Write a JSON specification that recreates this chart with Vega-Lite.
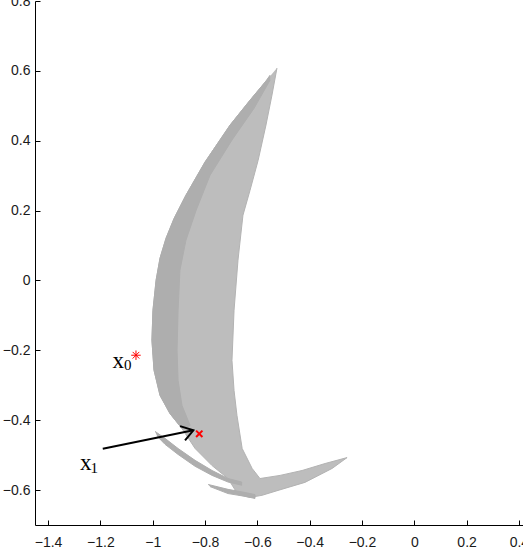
{
  "$schema": "https://vega.github.io/schema/vega-lite/v6.json",
  "width": 497,
  "height": 524,
  "autosize": {"type": "none"},
  "padding": {"left": 35, "top": 1, "right": 0, "bottom": 33},
  "background": "white",
  "config": {
    "view": {"stroke": null},
    "axis": {
      "grid": false,
      "domainColor": "black",
      "tickColor": "black",
      "labelColor": "#1a1a1a",
      "labelFont": "Liberation Sans",
      "labelFontSize": 14,
      "title": null
    }
  },
  "datasets": {
    "shapes": [
      {"shape": "main", "i": 0, "x": -0.525, "y": 0.608},
      {"shape": "main", "i": 1, "x": -0.544, "y": 0.531},
      {"shape": "main", "i": 2, "x": -0.567, "y": 0.445},
      {"shape": "main", "i": 3, "x": -0.597, "y": 0.344},
      {"shape": "main", "i": 4, "x": -0.628, "y": 0.258},
      {"shape": "main", "i": 5, "x": -0.655, "y": 0.187},
      {"shape": "main", "i": 6, "x": -0.674, "y": 0.058},
      {"shape": "main", "i": 7, "x": -0.689, "y": -0.085},
      {"shape": "main", "i": 8, "x": -0.697, "y": -0.229},
      {"shape": "main", "i": 9, "x": -0.689, "y": -0.315},
      {"shape": "main", "i": 10, "x": -0.678, "y": -0.386},
      {"shape": "main", "i": 11, "x": -0.658, "y": -0.481},
      {"shape": "main", "i": 12, "x": -0.620, "y": -0.538},
      {"shape": "main", "i": 13, "x": -0.590, "y": -0.567},
      {"shape": "main", "i": 14, "x": -0.513, "y": -0.558},
      {"shape": "main", "i": 15, "x": -0.429, "y": -0.544},
      {"shape": "main", "i": 16, "x": -0.341, "y": -0.524},
      {"shape": "main", "i": 17, "x": -0.257, "y": -0.507},
      {"shape": "main", "i": 18, "x": -0.314, "y": -0.538},
      {"shape": "main", "i": 19, "x": -0.418, "y": -0.578},
      {"shape": "main", "i": 20, "x": -0.521, "y": -0.601},
      {"shape": "main", "i": 21, "x": -0.582, "y": -0.615},
      {"shape": "main", "i": 22, "x": -0.628, "y": -0.621},
      {"shape": "main", "i": 23, "x": -0.674, "y": -0.613},
      {"shape": "main", "i": 24, "x": -0.712, "y": -0.567},
      {"shape": "main", "i": 25, "x": -0.773, "y": -0.530},
      {"shape": "main", "i": 26, "x": -0.838, "y": -0.481},
      {"shape": "main", "i": 27, "x": -0.888, "y": -0.424},
      {"shape": "main", "i": 28, "x": -0.934, "y": -0.381},
      {"shape": "main", "i": 29, "x": -0.972, "y": -0.329},
      {"shape": "main", "i": 30, "x": -0.995, "y": -0.257},
      {"shape": "main", "i": 31, "x": -1.003, "y": -0.171},
      {"shape": "main", "i": 32, "x": -0.999, "y": -0.085},
      {"shape": "main", "i": 33, "x": -0.987, "y": 0.001},
      {"shape": "main", "i": 34, "x": -0.972, "y": 0.064},
      {"shape": "main", "i": 35, "x": -0.949, "y": 0.121},
      {"shape": "main", "i": 36, "x": -0.918, "y": 0.178},
      {"shape": "main", "i": 37, "x": -0.873, "y": 0.244},
      {"shape": "main", "i": 38, "x": -0.800, "y": 0.339},
      {"shape": "main", "i": 39, "x": -0.704, "y": 0.445},
      {"shape": "main", "i": 40, "x": -0.628, "y": 0.516},
      {"shape": "main", "i": 41, "x": -0.570, "y": 0.568},
      {"shape": "dense", "i": 0, "x": -0.551, "y": 0.588},
      {"shape": "dense", "i": 1, "x": -0.570, "y": 0.568},
      {"shape": "dense", "i": 2, "x": -0.628, "y": 0.516},
      {"shape": "dense", "i": 3, "x": -0.704, "y": 0.445},
      {"shape": "dense", "i": 4, "x": -0.800, "y": 0.339},
      {"shape": "dense", "i": 5, "x": -0.873, "y": 0.244},
      {"shape": "dense", "i": 6, "x": -0.918, "y": 0.178},
      {"shape": "dense", "i": 7, "x": -0.949, "y": 0.121},
      {"shape": "dense", "i": 8, "x": -0.972, "y": 0.064},
      {"shape": "dense", "i": 9, "x": -0.987, "y": 0.001},
      {"shape": "dense", "i": 10, "x": -0.999, "y": -0.085},
      {"shape": "dense", "i": 11, "x": -1.003, "y": -0.171},
      {"shape": "dense", "i": 12, "x": -0.995, "y": -0.257},
      {"shape": "dense", "i": 13, "x": -0.972, "y": -0.329},
      {"shape": "dense", "i": 14, "x": -0.934, "y": -0.381},
      {"shape": "dense", "i": 15, "x": -0.888, "y": -0.424},
      {"shape": "dense", "i": 16, "x": -0.857, "y": -0.415},
      {"shape": "dense", "i": 17, "x": -0.888, "y": -0.358},
      {"shape": "dense", "i": 18, "x": -0.903, "y": -0.286},
      {"shape": "dense", "i": 19, "x": -0.907, "y": -0.200},
      {"shape": "dense", "i": 20, "x": -0.903, "y": -0.085},
      {"shape": "dense", "i": 21, "x": -0.896, "y": 0.029},
      {"shape": "dense", "i": 22, "x": -0.873, "y": 0.115},
      {"shape": "dense", "i": 23, "x": -0.834, "y": 0.201},
      {"shape": "dense", "i": 24, "x": -0.781, "y": 0.301},
      {"shape": "dense", "i": 25, "x": -0.697, "y": 0.402},
      {"shape": "dense", "i": 26, "x": -0.6125, "y": 0.493},
      {"shape": "dense", "i": 27, "x": -0.551, "y": 0.574},
      {"shape": "band1", "i": 0, "x": -0.991, "y": -0.432},
      {"shape": "band1", "i": 1, "x": -0.953, "y": -0.452},
      {"shape": "band1", "i": 2, "x": -0.903, "y": -0.481},
      {"shape": "band1", "i": 3, "x": -0.838, "y": -0.515},
      {"shape": "band1", "i": 4, "x": -0.773, "y": -0.544},
      {"shape": "band1", "i": 5, "x": -0.712, "y": -0.567},
      {"shape": "band1", "i": 6, "x": -0.660, "y": -0.577},
      {"shape": "band1", "i": 7, "x": -0.660, "y": -0.586},
      {"shape": "band1", "i": 8, "x": -0.712, "y": -0.577},
      {"shape": "band1", "i": 9, "x": -0.773, "y": -0.558},
      {"shape": "band1", "i": 10, "x": -0.838, "y": -0.532},
      {"shape": "band1", "i": 11, "x": -0.903, "y": -0.498},
      {"shape": "band1", "i": 12, "x": -0.953, "y": -0.469},
      {"shape": "band1", "i": 13, "x": -0.983, "y": -0.446},
      {"shape": "band2", "i": 0, "x": -0.788, "y": -0.584},
      {"shape": "band2", "i": 1, "x": -0.712, "y": -0.598},
      {"shape": "band2", "i": 2, "x": -0.647, "y": -0.607},
      {"shape": "band2", "i": 3, "x": -0.609, "y": -0.613},
      {"shape": "band2", "i": 4, "x": -0.609, "y": -0.624},
      {"shape": "band2", "i": 5, "x": -0.647, "y": -0.618},
      {"shape": "band2", "i": 6, "x": -0.712, "y": -0.610},
      {"shape": "band2", "i": 7, "x": -0.781, "y": -0.590}
    ],
    "arrow": [
      {"seg": "shaft", "i": 0, "x": -1.191, "y": -0.482},
      {"seg": "shaft", "i": 1, "x": -0.8446, "y": -0.429},
      {"seg": "head", "i": 0, "x": -0.8955, "y": -0.417},
      {"seg": "head", "i": 1, "x": -0.8446, "y": -0.429},
      {"seg": "head", "i": 2, "x": -0.8764, "y": -0.458}
    ],
    "points": [
      {"name": "x0", "x": -1.064, "y": -0.214},
      {"name": "x1", "x": -0.822, "y": -0.439}
    ],
    "labels": [
      {"part": "base", "t": "x", "x": -1.1536, "y": -0.2501},
      {"part": "base", "t": "x", "x": -1.2779, "y": -0.5438},
      {"part": "sub", "t": "0", "x": -1.1097, "y": -0.2573},
      {"part": "sub", "t": "1", "x": -1.2378, "y": -0.5524}
    ]
  },
  "encoding": {
    "x": {"field": "x", "type": "quantitative", "scale": {"domain": [-1.45, 0.45], "nice": false, "zero": false},
      "axis": {"values": [-1.4, -1.2, -1, -0.8, -0.6, -0.4, -0.2, 0, 0.2, 0.4], "format": "~g", "tickSize": -5, "labelPadding": 15}},
    "y": {"field": "y", "type": "quantitative", "scale": {"domain": [-0.7, 0.8], "nice": false, "zero": false},
      "axis": {"values": [-0.6, -0.4, -0.2, 0, 0.2, 0.4, 0.6, 0.8], "format": "~g", "tickSize": -5, "labelPadding": 10}}
  },
  "layer": [
    {
      "data": {"name": "shapes"},
      "transform": [{"filter": "datum.shape === 'main'"}],
      "mark": {"type": "line", "fill": "#bdbdbd", "stroke": "#b3b3b3", "strokeWidth": 1},
      "encoding": {"order": {"field": "i", "type": "quantitative"}}
    },
    {
      "data": {"name": "shapes"},
      "transform": [{"filter": "datum.shape !== 'main'"}],
      "mark": {"type": "line", "fill": "#aeaeae", "stroke": "#aeaeae", "strokeWidth": 1},
      "encoding": {"detail": {"field": "shape"}, "order": {"field": "i", "type": "quantitative"}}
    },
    {
      "data": {"name": "arrow"},
      "mark": {"type": "line", "color": "black", "strokeWidth": 2},
      "encoding": {"detail": {"field": "seg"}, "order": {"field": "i", "type": "quantitative"}}
    },
    {
      "data": {"name": "points"},
      "transform": [{"filter": "datum.name === 'x0'"}],
      "mark": {"type": "point", "shape": "M-1,0L1,0M0,-1L0,1M-0.7,-0.7L0.7,0.7M-0.7,0.7L0.7,-0.7", "size": 90, "stroke": "#ff0000", "strokeWidth": 1, "filled": false, "opacity": 1}
    },
    {
      "data": {"name": "points"},
      "transform": [{"filter": "datum.name === 'x1'"}],
      "mark": {"type": "point", "shape": "M-1,-1L1,1M-1,1L1,-1", "size": 40, "stroke": "#ff0000", "strokeWidth": 2, "filled": false, "opacity": 1}
    },
    {
      "data": {"name": "labels"},
      "transform": [{"filter": "datum.part === 'base'"}],
      "mark": {"type": "text", "font": "Liberation Serif", "fontSize": 23, "align": "left", "baseline": "alphabetic", "color": "black"},
      "encoding": {"text": {"field": "t"}}
    },
    {
      "data": {"name": "labels"},
      "transform": [{"filter": "datum.part === 'sub'"}],
      "mark": {"type": "text", "font": "Liberation Serif", "fontSize": 15, "align": "left", "baseline": "alphabetic", "color": "black"},
      "encoding": {"text": {"field": "t"}}
    }
  ]
}
